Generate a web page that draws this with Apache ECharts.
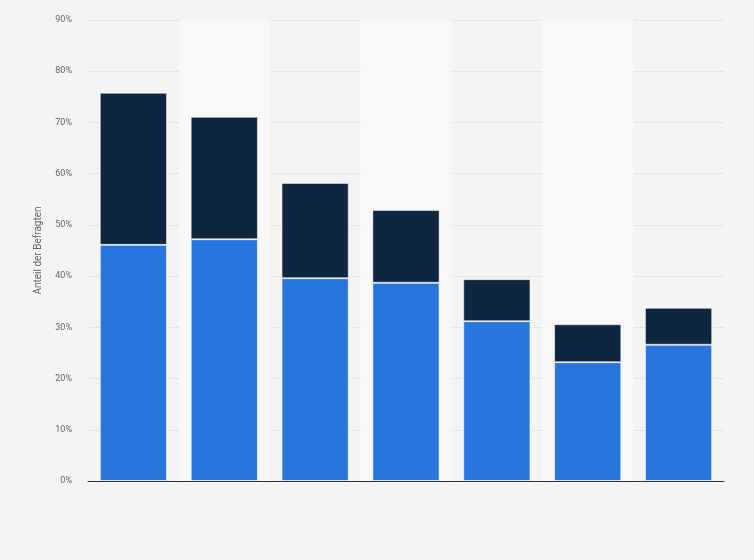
<!DOCTYPE html>
<html>
<head>
<meta charset="utf-8">
<script src="https://cdn.jsdelivr.net/npm/echarts@6/dist/echarts.min.js"></script>
<style>
  html, body { margin: 0; padding: 0; background: #f4f4f4; }
  #chart { width: 754px; height: 560px; }
</style>
</head>
<body>
<div id="chart"></div>
<script>
// Kategorien (im Original ohne Beschriftung)
var categories = ['1', '2', '3', '4', '5', '6', '7'];
// unterer Teil (blau)
var blueValues = [46.1, 47.2, 39.6, 38.7, 31.2, 23.2, 26.6];
// oberer Teil (dunkelblau)
var darkValues = [29.7, 23.9, 18.6, 14.2, 8.2, 7.4, 7.2];

window.onload = function () {
    var myChart = echarts.init(document.getElementById('chart'));
    var option = {
        backgroundColor: '#f4f4f4',
        animation: false,
        grid: { left: 88, right: 30, top: 20, bottom: 79 },
        xAxis: {
            type: 'category',
            data: categories,
            axisTick: { show: false },
            axisLabel: { show: false },
            axisLine: { lineStyle: { color: '#333', width: 1 } },
            splitArea: {
                show: true,
                areaStyle: { color: ['rgba(0,0,0,0)', '#f8f8f8'] }
            }
        },
        yAxis: {
            type: 'value',
            min: 0,
            max: 90,
            interval: 10,
            name: 'Anteil der Befragten',
            nameLocation: 'middle',
            nameGap: 45,
            nameTextStyle: { color: '#666', fontSize: 10, fontFamily: 'Roboto' },
            axisLine: { show: false },
            axisTick: { show: false },
            axisLabel: {
                formatter: '{value}%',
                color: '#666',
                fontSize: 9,
                fontFamily: 'Roboto',
                margin: 16
            },
            splitLine: { lineStyle: { color: '#d8d8d8', type: 'dotted' } }
        },
        series: [
            {
                type: 'bar',
                stack: 'all',
                barWidth: '74%',
                data: blueValues,
                itemStyle: { color: '#2876dd', borderColor: 'rgba(255,255,255,0.6)', borderWidth: 1 }
            },
            {
                type: 'bar',
                stack: 'all',
                barWidth: '74%',
                data: darkValues,
                itemStyle: { color: '#0f2640', borderColor: 'rgba(255,255,255,0.5)', borderWidth: 1 }
            }
        ]
    };
    myChart.setOption(option);
};
</script>
</body>
</html>
